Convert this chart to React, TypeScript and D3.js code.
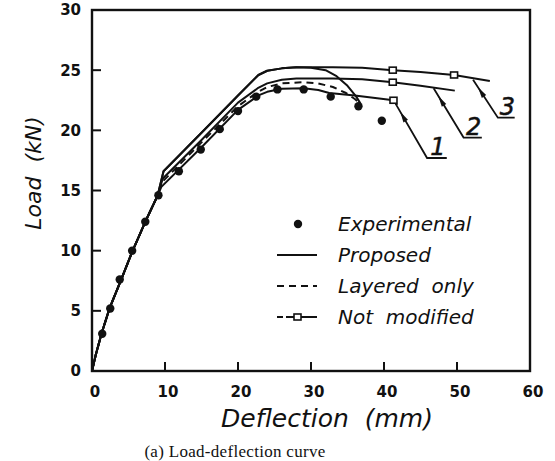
import React from 'react';
import * as d3 from 'd3';

type Pt = [number, number];

// Experimental test points (deflection mm, load kN)
const experimental: Pt[] = [
  [1.4, 3.1], [2.5, 5.2], [3.8, 7.6], [5.5, 10.0], [7.3, 12.4], [9.1, 14.6],
  [11.9, 16.6], [14.9, 18.4], [17.5, 20.1], [20.0, 21.6], [22.5, 22.8],
  [25.4, 23.4], [29.0, 23.4], [32.7, 22.8], [36.5, 22.0], [39.7, 20.8],
];

// shared initial branch of all analyses
const initialBranch: Pt[] = [
  [0, 0], [0.5, 1.3], [1.3, 3.1], [2.4, 5.2], [4.0, 7.6], [5.5, 9.9], [7.3, 12.4], [9.0, 14.6],
];

const proposed: Pt[] = [
  ...initialBranch,
  [9.8, 16.6], [15, 19.8], [20, 22.9], [22.8, 24.6], [24, 24.95], [26, 25.15], [28, 25.25],
  [30, 25.2], [32, 25.0], [33.5, 24.5], [35, 23.7], [36.2, 22.8], [36.8, 22.2],
];

const layeredOnly: Pt[] = [
  ...initialBranch,
  [9.6, 15.7], [15, 19.0], [20, 22.0], [22.5, 23.1], [24, 23.6], [26, 23.9], [29, 24.0],
  [31, 23.9], [33, 23.6], [34.8, 23.1], [36, 22.6], [36.8, 22.2],
];

const notModified1: Pt[] = [
  ...initialBranch,
  [9.5, 15.3], [15, 18.6], [20, 21.7], [22.8, 22.9], [24, 23.2], [26, 23.45], [29, 23.5],
  [31, 23.35], [32.5, 23.1], [36, 22.9], [41.3, 22.5], [41.8, 22.1],
];
const notModified2: Pt[] = [
  ...initialBranch,
  [9.7, 16.0], [15, 19.2], [20, 22.3], [22.7, 23.5], [24, 23.9], [26, 24.2], [28, 24.3],
  [33, 24.3], [37, 24.25], [41.2, 24.0], [45, 23.7], [49.7, 23.3],
];
const notModified3: Pt[] = [
  ...initialBranch,
  [9.8, 16.6], [15, 19.8], [20, 22.9], [22.8, 24.6], [24, 24.95], [26, 25.15], [28, 25.25],
  [33, 25.25], [37, 25.2], [41.2, 25.0], [45, 24.85], [49.6, 24.6], [54.5, 24.1],
];

// square markers on the "not modified" curves
const squares1: Pt[] = [[41.3, 22.5]];
const squares2: Pt[] = [[41.2, 24.0]];
const squares3: Pt[] = [[41.2, 25.0], [49.6, 24.6]];

// curve call-outs: tip on curve, elbow, end of underline (data units)
const callouts = [
  { label: '1', tip: [41.6, 22.2] as Pt, elbow: [45.9, 17.7] as Pt, end: 48.6 },
  { label: '2', tip: [46.8, 23.5] as Pt, elbow: [50.9, 19.4] as Pt, end: 53.4 },
  { label: '3', tip: [52.2, 24.2] as Pt, elbow: [55.6, 21.05] as Pt, end: 57.9 },
];

const xTicks = [0, 10, 20, 30, 40, 50, 60];
const yTicks = [0, 5, 10, 15, 20, 25, 30];

const legendItems = ['Experimental', 'Proposed', 'Layered  only', 'Not  modified'];

const W = 555;
const H = 461;
const plot = { left: 92, top: 10, right: 530, bottom: 371 };

const App = () => {
  const x = d3.scaleLinear().domain([0, 60]).range([plot.left, plot.right]);
  const y = d3.scaleLinear().domain([0, 30]).range([plot.bottom, plot.top]);

  const line = d3
    .line<Pt>()
    .x(d => x(d[0]))
    .y(d => y(d[1]));

  const sans = 'DejaVu Sans, sans-serif';
  const ink = '#111';

  const curves = [
    { data: proposed, dash: null },
    { data: layeredOnly, dash: '7,5' },
    { data: notModified1, dash: null },
    { data: notModified2, dash: null },
    { data: notModified3, dash: null },
  ];
  const allSquares = [...squares1, ...squares2, ...squares3];

  const legX = 277;
  const legY0 = 224;
  const legStep = 31;

  return (
    <div style={{ position: 'absolute', left: 0, top: 0 }}>
      <svg width={W} height={H} style={{ display: 'block', background: '#fff' }}>
        {/* curves */}
        {curves.map((c, i) => (
          <path
            key={i}
            d={line(c.data) || ''}
            fill="none"
            stroke={ink}
            strokeWidth={2}
            strokeLinejoin="round"
            strokeDasharray={c.dash || undefined}
          />
        ))}
        {allSquares.map((d, i) => (
          <rect
            key={i}
            x={x(d[0]) - 3.5}
            y={y(d[1]) - 3}
            width={7}
            height={6}
            fill="#fff"
            stroke={ink}
            strokeWidth={1.6}
          />
        ))}
        {experimental.map((d, i) => (
          <circle key={i} cx={x(d[0])} cy={y(d[1])} r={4.2} fill={ink} />
        ))}

        {/* call-outs */}
        {callouts.map(c => {
          const tx = x(c.tip[0]);
          const ty = y(c.tip[1]);
          const ex = x(c.elbow[0]);
          const ey = y(c.elbow[1]);
          const ang = Math.atan2(ty - ey, tx - ex);
          const hx = tx - Math.cos(ang) * 9;
          const hy = ty - Math.sin(ang) * 9;
          const bx = tx - Math.cos(ang) * 20;
          const by = ty - Math.sin(ang) * 20;
          const px = -Math.sin(ang) * 2.6;
          const py = Math.cos(ang) * 2.6;
          return (
            <g key={c.label}>
              <polyline
                points={`${tx},${ty} ${ex},${ey} ${x(c.end)},${ey}`}
                fill="none"
                stroke={ink}
                strokeWidth={1.8}
              />
              <polygon
                points={`${hx},${hy} ${bx + px},${by + py} ${bx - px},${by - py}`}
                fill={ink}
              />
              <text
                x={(ex + x(c.end)) / 2 + 1}
                y={ey - 3}
                textAnchor="middle"
                fontFamily={sans}
                fontStyle="italic"
                fontSize={24}
                fill={ink}
                stroke={ink}
                strokeWidth={0.5}
              >
                {c.label}
              </text>
            </g>
          );
        })}

        {/* frame */}
        <rect
          x={plot.left}
          y={plot.top}
          width={plot.right - plot.left}
          height={plot.bottom - plot.top}
          fill="none"
          stroke={ink}
          strokeWidth={2.4}
        />

        {/* ticks (inward) */}
        {yTicks.map(t => (
          <g key={'y' + t}>
            {t > 0 && t < 30 && (
              <line x1={plot.left} x2={plot.left + 9} y1={y(t)} y2={y(t)} stroke={ink} strokeWidth={2} />
            )}
            <text
              x={81}
              y={y(t)}
              dy="0.36em"
              textAnchor="end"
              fontFamily={sans}
              fontWeight="bold"
              fontSize={15}
              fill={ink}
            >
              {t}
            </text>
          </g>
        ))}
        {xTicks.map(t => (
          <g key={'x' + t}>
            {t > 0 && t < 60 && (
              <line x1={x(t)} x2={x(t)} y1={plot.bottom} y2={plot.bottom - 9} stroke={ink} strokeWidth={2} />
            )}
            <text
              x={x(t) + 3}
              y={397}
              textAnchor="middle"
              fontFamily={sans}
              fontWeight="bold"
              fontSize={15}
              fill={ink}
            >
              {t}
            </text>
          </g>
        ))}

        {/* axis titles */}
        <text
          x={327}
          y={427}
          textAnchor="middle"
          fontFamily={sans}
          fontStyle="italic"
          fontSize={25}
          fill={ink}
          xmlSpace="preserve"
        >
          Deflection  (mm)
        </text>
        <text
          transform={`translate(41,173) rotate(-90)`}
          textAnchor="middle"
          fontFamily={sans}
          fontStyle="italic"
          fontSize={22}
          fill={ink}
          xmlSpace="preserve"
        >
          Load  (kN)
        </text>

        {/* legend */}
        {legendItems.map((name, i) => {
          const cy = legY0 + i * legStep;
          return (
            <g key={name}>
              {i === 0 && <circle cx={legX + 21} cy={cy} r={4.2} fill={ink} />}
              {i === 1 && <line x1={legX} x2={legX + 40} y1={cy} y2={cy} stroke={ink} strokeWidth={2} />}
              {i === 2 && (
                <line x1={legX} x2={legX + 40} y1={cy} y2={cy} stroke={ink} strokeWidth={2} strokeDasharray="7,5" />
              )}
              {i === 3 && (
                <g>
                  <line x1={legX} x2={legX + 40} y1={cy} y2={cy} stroke={ink} strokeWidth={2} strokeDasharray="6,3,40" />
                  <rect x={legX + 17} y={cy - 3} width={7} height={6} fill="#fff" stroke={ink} strokeWidth={1.6} />
                </g>
              )}
              <text
                x={338}
                y={cy + 7}
                fontFamily={sans}
                fontStyle="italic"
                fontSize={20}
                fill={ink}
                xmlSpace="preserve"
              >
                {name}
              </text>
            </g>
          );
        })}

        {/* caption */}
        <text
          x={235}
          y={457}
          textAnchor="middle"
          fontFamily="Liberation Serif, serif"
          fontSize={17}
          letterSpacing={0.3}
          fill={ink}
        >
          (a) Load-deflection curve
        </text>
      </svg>
    </div>
  );
};

export default App;
